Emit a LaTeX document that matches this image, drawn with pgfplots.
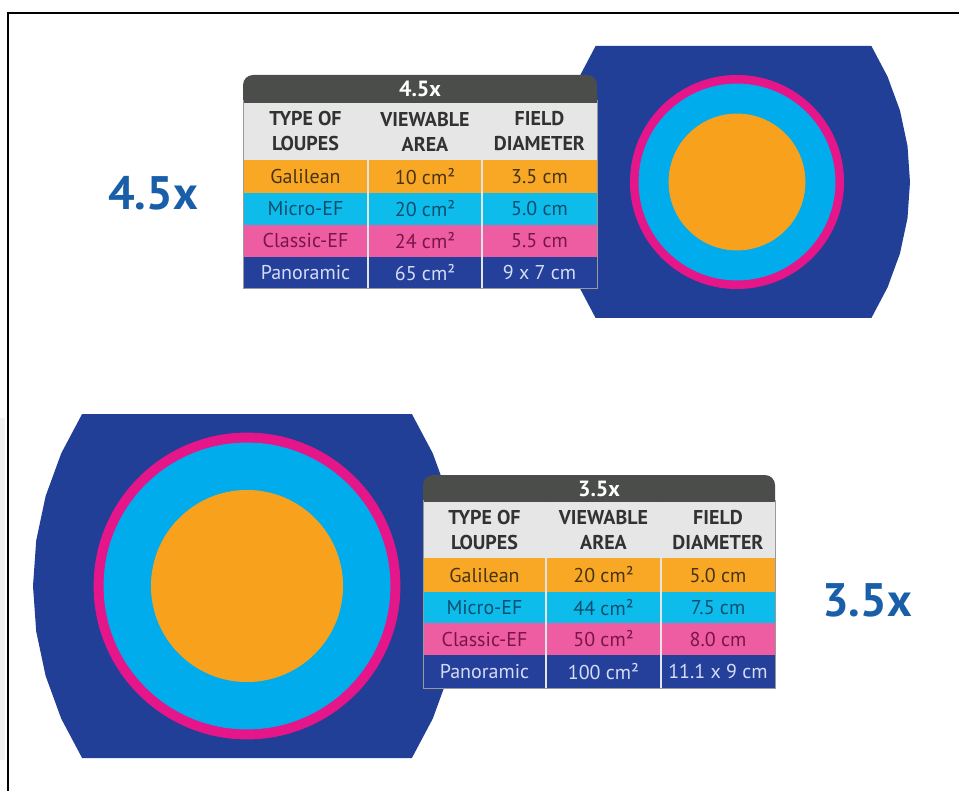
\documentclass[border=0pt]{standalone}
\usepackage{fontspec}
\setmainfont{PT Sans}
\usepackage{pgfplots}
\pgfplotsset{compat=1.18}
\definecolor{navy}{RGB}{33,63,150}
\definecolor{ringpink}{RGB}{228,22,138}
\definecolor{lenscyan}{RGB}{0,172,236}
\definecolor{lensorange}{RGB}{247,161,28}
\definecolor{rowor}{RGB}{249,168,38}
\definecolor{rowcy}{RGB}{14,188,235}
\definecolor{rowpk}{RGB}{238,92,162}
\definecolor{rownv}{RGB}{36,64,154}
\definecolor{hdr}{RGB}{230,230,230}
\definecolor{bar}{RGB}{75,77,75}
\definecolor{txor}{RGB}{72,52,18}
\definecolor{txcy}{RGB}{12,78,110}
\definecolor{txpk}{RGB}{120,22,70}
\definecolor{txnv}{RGB}{214,220,245}
\definecolor{txhd}{RGB}{50,50,50}
\definecolor{bigblue}{RGB}{24,94,168}
\newcommand{\cellfont}{\fontsize{10}{12}\selectfont}
\newcommand{\hdfont}{\bfseries\fontsize{10}{12.5}\selectfont}
\begin{document}
\begin{tikzpicture}
\begin{axis}[
  width=479.5pt, height=395.5pt, scale only axis,
  xmin=0, xmax=959, ymin=0, ymax=791, y dir=reverse,
  axis lines=none, ticks=none, clip=true]
% background
\addplot[fill=white, draw=none] coordinates {(0,0)(959,0)(959,791)(0,791)} -- cycle;
\addplot[fill=black!5, draw=none] coordinates {(0,418)(5,418)(5,760)(0,760)} -- cycle;
% frame
\addplot[black, line width=0.6pt] coordinates {(8,791)(8,13)(959,13)};

% ---------- top lens (4.5x) ----------
\addplot[fill=navy, draw=none] coordinates {
 (595.6,46)(871.4,46)(887.6,76.7)(900,110.6)(907.5,145.9)(910,182)(907.5,218.1)(900,253.4)(887.6,287.3)(871.4,318)
 (595.6,318)(579.4,287.3)(567,253.4)(559.5,218.1)(557,182)(559.5,145.9)(567,110.6)(579.4,76.7)} -- cycle;
\addplot[only marks, mark=*, color=ringpink, mark size=53.3pt] coordinates {(737,182)};
\addplot[only marks, mark=*, color=lenscyan, mark size=49pt] coordinates {(737,182)};
\addplot[only marks, mark=*, color=lensorange, mark size=34pt] coordinates {(737,182)};

% ---------- bottom lens (3.5x) ----------
\addplot[fill=navy, draw=none] coordinates {
 (82.1,414)(411.9,414)(432.8,453.4)(448.4,496.2)(457.8,540.6)(461,586)(457.8,631.4)(448.4,675.8)(432.8,718.6)(411.9,758)
 (82.1,758)(61.2,718.6)(45.6,675.8)(36.2,631.4)(33,586)(36.2,540.6)(45.6,496.2)(61.2,453.4)} -- cycle;
\addplot[only marks, mark=*, color=ringpink, mark size=76.5pt] coordinates {(247,586)};
\addplot[only marks, mark=*, color=lenscyan, mark size=71.5pt] coordinates {(247,586)};
\addplot[only marks, mark=*, color=lensorange, mark size=47.8pt] coordinates {(247,586)};

% ---------- top table ----------
\addplot[fill=bar, draw=none, rounded corners=5pt] coordinates {(243,110)(243,75)(597,75)(597,110)} -- cycle;
\addplot[fill=hdr, draw=none] coordinates {(243,103)(597,103)(597,160)(243,160)} -- cycle;
\addplot[fill=rowor, draw=none] coordinates {(243,160)(597,160)(597,193)(243,193)} -- cycle;
\addplot[fill=rowcy, draw=none] coordinates {(243,193)(597,193)(597,225)(243,225)} -- cycle;
\addplot[fill=rowpk, draw=none] coordinates {(243,225)(597,225)(597,257)(243,257)} -- cycle;
\addplot[fill=rownv, draw=none] coordinates {(243,257)(597,257)(597,289)(243,289)} -- cycle;
\addplot[white!80!gray, line width=0.7pt] coordinates {(368,103)(368,289)};
\addplot[white!80!gray, line width=0.7pt] coordinates {(482,103)(482,289)};
\addplot[gray!80, line width=0.5pt] coordinates {(243,100)(243,289)(597,289)(597,100)};
\node[text=white, font=\bfseries\fontsize{11}{12}\selectfont] at (420,89) {4.5x};
\node[text=txhd, font=\hdfont, align=center] at (305.5,131.5) {TYPE OF\\LOUPES};
\node[text=txhd, font=\hdfont, align=center] at (425,131.5) {VIEWABLE\\AREA};
\node[text=txhd, font=\hdfont, align=center] at (539.5,131.5) {FIELD\\DIAMETER};
\node[text=txor, font=\cellfont] at (305.5,176.5) {Galilean};
\node[text=txor, font=\cellfont] at (425,176.5) {10 cm²};
\node[text=txor, font=\cellfont] at (539.5,176.5) {3.5 cm};
\node[text=txcy, font=\cellfont] at (305.5,209) {Micro-EF};
\node[text=txcy, font=\cellfont] at (425,209) {20 cm²};
\node[text=txcy, font=\cellfont] at (539.5,209) {5.0 cm};
\node[text=txpk, font=\cellfont] at (305.5,241) {Classic-EF};
\node[text=txpk, font=\cellfont] at (425,241) {24 cm²};
\node[text=txpk, font=\cellfont] at (539.5,241) {5.5 cm};
\node[text=txnv, font=\cellfont] at (305.5,273) {Panoramic};
\node[text=txnv, font=\cellfont] at (425,273) {65 cm²};
\node[text=txnv, font=\cellfont] at (539.5,273) {9 x 7 cm};

% ---------- bottom table ----------
\addplot[fill=bar, draw=none, rounded corners=5pt] coordinates {(423,510)(423,475)(775,475)(775,510)} -- cycle;
\addplot[fill=hdr, draw=none] coordinates {(423,502)(775,502)(775,558)(423,558)} -- cycle;
\addplot[fill=rowor, draw=none] coordinates {(423,558)(775,558)(775,592)(423,592)} -- cycle;
\addplot[fill=rowcy, draw=none] coordinates {(423,592)(775,592)(775,623)(423,623)} -- cycle;
\addplot[fill=rowpk, draw=none] coordinates {(423,623)(775,623)(775,655)(423,655)} -- cycle;
\addplot[fill=rownv, draw=none] coordinates {(423,655)(775,655)(775,688)(423,688)} -- cycle;
\addplot[white!80!gray, line width=0.7pt] coordinates {(546,502)(546,688)};
\addplot[white!80!gray, line width=0.7pt] coordinates {(661,502)(661,688)};
\addplot[gray!80, line width=0.5pt] coordinates {(423,500)(423,688)(775,688)(775,500)};
\node[text=white, font=\bfseries\fontsize{11}{12}\selectfont] at (599,488.5) {3.5x};
\node[text=txhd, font=\hdfont, align=center] at (484.5,530) {TYPE OF\\LOUPES};
\node[text=txhd, font=\hdfont, align=center] at (603.5,530) {VIEWABLE\\AREA};
\node[text=txhd, font=\hdfont, align=center] at (718,530) {FIELD\\DIAMETER};
\node[text=txor, font=\cellfont] at (484.5,575) {Galilean};
\node[text=txor, font=\cellfont] at (603.5,575) {20 cm²};
\node[text=txor, font=\cellfont] at (718,575) {5.0 cm};
\node[text=txcy, font=\cellfont] at (484.5,607.5) {Micro-EF};
\node[text=txcy, font=\cellfont] at (603.5,607.5) {44 cm²};
\node[text=txcy, font=\cellfont] at (718,607.5) {7.5 cm};
\node[text=txpk, font=\cellfont] at (484.5,639) {Classic-EF};
\node[text=txpk, font=\cellfont] at (603.5,639) {50 cm²};
\node[text=txpk, font=\cellfont] at (718,639) {8.0 cm};
\node[text=txnv, font=\cellfont] at (484.5,671.5) {Panoramic};
\node[text=txnv, font=\cellfont] at (603.5,671.5) {100 cm²};
\node[text=txnv, font=\cellfont] at (718,671.5) {11.1 x 9 cm};

% ---------- big labels ----------
\node[text=bigblue, font=\bfseries\fontsize{23.5}{25}\selectfont] at (153,193) {4.5x};
\node[text=bigblue, font=\bfseries\fontsize{23.5}{25}\selectfont] at (867,600) {3.5x};
\end{axis}
\end{tikzpicture}
\end{document}
